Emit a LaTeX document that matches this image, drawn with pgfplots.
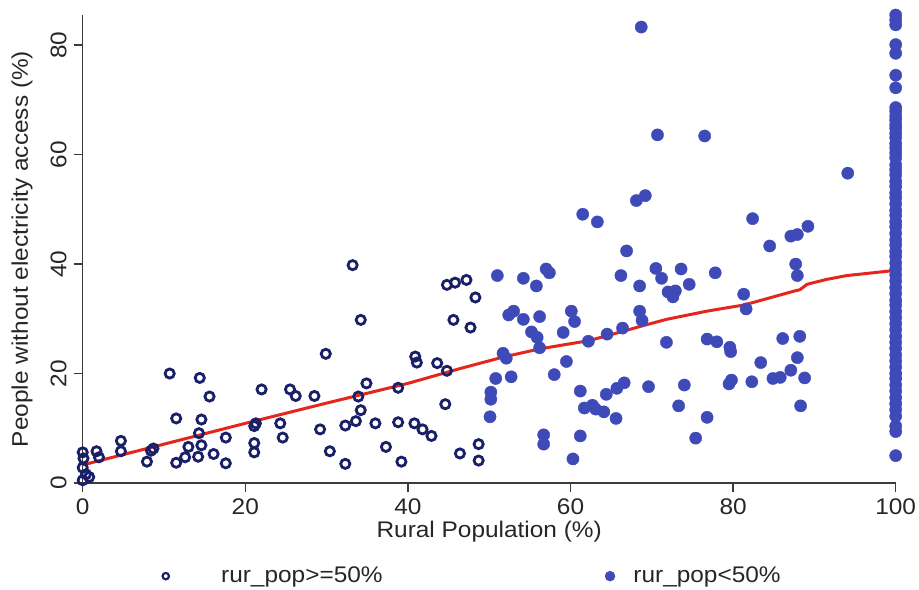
\documentclass[border=0pt]{standalone}
\usepackage{fontspec}
\setmainfont{Liberation Sans}[FakeStretch=1.08]
\usepackage{pgfplots}
\pgfplotsset{compat=1.18}

\definecolor{navyring}{RGB}{26,32,104}
\definecolor{dotblue}{RGB}{62,74,184}
\definecolor{fitred}{RGB}{228,38,28}
\definecolor{axisgray}{RGB}{60,60,60}

\pgfplotsset{
    ringlegend/.style={legend image code/.code={\path (-3pt,0pt) (27.5pt,0pt);
        \draw[##1, mark size=1.6pt, mark options={line width=1.1pt}] plot coordinates {(0pt,0pt)};}},
    dotlegend/.style={legend image code/.code={\path (-113.5pt,0pt) (11.5pt,0pt);
        \draw[##1, mark size=2.5pt] plot coordinates {(0pt,0pt)};}},
}

\begin{document}
\begin{tikzpicture}
\useasboundingbox (0,0) rectangle (459.5pt,-294.5pt);
\begin{axis}[
    at={(41.35pt,-241.5pt)}, anchor=south west,
    scale only axis, width=406.5pt, height=234pt,
    xmin=0, xmax=100, ymin=0, ymax=85.5,
    clip=false,
    axis lines=left,
    axis line style={-, draw=axisgray, line width=0.75pt},
    tick align=outside, major tick length=4.5pt,
    tick style={axisgray, line width=0.75pt},
    xtick={0,20,...,100}, ytick={0,20,...,80},
    /pgf/number format/assume math mode=true,
    tick label style={font=\fontsize{11.3}{13}\selectfont, text=black!85},
    yticklabel style={rotate=90, anchor=south},
    label style={font=\fontsize{11.3}{13}\selectfont, text=black!85},
    xlabel={Rural Population (\%)},
    ylabel={People without electricity access (\%)},
    xlabel style={at={(axis description cs:0.5,-0.0812)}, anchor=north, inner sep=0pt},
    ylabel style={at={(axis description cs:-0.0611,0.5)}, anchor=south, inner sep=0pt},
    legend columns=2,
    legend style={draw=none, fill=none, at={(axis description cs:0.0938,-0.199)},
        anchor=west, font=\fontsize{11.3}{13}\selectfont, text=black!85,
        column sep=0pt, inner sep=0pt, nodes={inner sep=0pt}},
]
% rural population below 50%
\addplot[navyring, only marks, mark=o, mark size=2.3pt,
    mark options={draw=navyring, line width=1.4pt}, ringlegend]
coordinates {
(0,5.6) (0.1,4.5) (0,2.8) (0,0.5) (0.8,1.1) (0.4,1.6) (1.7,5.8) (2.0,4.7)
(4.7,7.7) (4.7,5.8) (7.9,3.9) (8.4,5.9) (8.7,6.3) (10.7,20.0) (11.5,11.8)
(11.5,3.7) (12.6,4.7) (13.0,6.6) (14.4,19.2) (14.6,11.6) (14.3,9.1) (14.6,6.9)
(14.2,4.8) (15.6,15.8) (16.1,5.3) (17.6,8.3) (17.6,3.6) (21.1,10.4) (21.3,10.9)
(21.1,7.3) (21.1,5.6) (22.0,17.1) (24.3,10.9) (24.6,8.3) (25.5,17.1) (26.2,15.9)
(28.5,15.9) (29.2,9.8) (29.9,23.6) (30.4,5.8) (32.3,10.5) (32.3,3.5) (33.2,39.8)
(33.6,11.3) (33.9,15.8) (34.2,13.3) (34.2,29.8) (34.9,18.2) (36.0,10.9) (37.3,6.6)
(38.8,17.4) (38.8,11.1) (39.2,3.9) (40.9,23.1) (41.1,22.0) (40.8,10.9) (41.8,9.8)
(42.9,8.6) (43.6,21.9) (44.8,20.5) (44.6,14.4) (44.8,36.2) (45.8,36.6) (45.6,29.8)
(46.4,5.4) (47.2,37.1) (48.3,33.9) (47.7,28.4) (48.7,7.1) (48.7,4.1)
};
\addlegendentry{rur\_pop>=50\%}

% rural population 50% and above
\addplot[dotblue, only marks, mark=*, mark size=3.05pt,
    mark options={draw=dotblue, fill=dotblue, line width=0.2pt}, dotlegend]
coordinates {
(51.0,37.9) (54.2,37.4) (55.8,36.0) (57.0,39.1) (57.4,38.4) (52.4,30.7) (53.0,31.4)
(54.2,29.9) (56.2,30.4) (55.2,27.6) (55.9,26.6) (56.2,24.7) (51.7,23.7) (52.1,22.8)
(50.8,19.1) (52.7,19.4) (50.2,16.6) (50.2,15.3) (50.1,12.1) (59.1,27.5) (60.1,31.4)
(60.5,29.5) (59.5,22.2) (58.0,19.8) (62.2,25.9) (64.5,27.2) (66.4,28.3) (68.5,31.4)
(68.8,29.7) (66.2,37.9) (68.5,36.0) (70.5,39.2) (71.2,37.4) (73.6,39.1) (74.6,36.3)
(72.0,34.9) (72.9,35.1) (72.6,34.0) (77.8,38.4) (71.8,25.7) (76.8,26.3) (78.0,25.8)
(79.6,24.8) (79.7,24.0) (81.3,34.5) (81.6,31.8) (87.7,40.0) (87.9,37.9) (86.1,26.4)
(88.2,26.8) (87.9,22.9) (83.4,22.0) (87.1,20.6) (85.8,19.3) (84.9,19.1) (88.8,19.2)
(82.3,18.5) (79.5,18.1) (79.8,18.8) (88.3,14.1) (74.0,17.9) (69.6,17.6) (73.3,14.1)
(76.8,12.0) (75.4,8.2) (66.6,18.3) (65.7,17.3) (64.4,16.2) (64.1,13.0) (65.6,11.8)
(62.7,14.2) (61.7,13.7) (63.1,13.5) (61.2,16.8) (61.2,8.6) (60.3,4.4) (56.7,8.8)
(56.7,7.1) (68.7,83.3) (70.7,63.6) (76.5,63.4) (94.1,56.6) (68.1,51.6) (69.2,52.5)
(61.5,49.1) (63.3,47.7) (82.4,48.3) (89.2,46.9) (87.1,45.1) (87.9,45.4) (84.5,43.3)
(66.9,42.4)
(100,85.5) (100,84.6) (100,83.7) (100,80.1) (100,78.5) (100,74.5) (100,72.2)
(100,68.6) (100,67.9) (100,67.0) (100,66.3) (100,65.4) (100,64.8) (100,63.9)
(100,63.1) (100,62.0) (100,61.2) (100,60.3) (100,59.4) (100,58.1) (100,57.2)
(100,56.3) (100,55.1) (100,54.2) (100,53.0) (100,52.1) (100,51.0) (100,49.8)
(100,48.9) (100,47.7) (100,46.8) (100,45.6) (100,44.4) (100,43.5) (100,42.3)
(100,41.4) (100,40.2) (100,39.1) (100,38.0) (100,36.9) (100,35.7) (100,34.6)
(100,33.4) (100,32.5) (100,31.3) (100,30.2) (100,29.1) (100,28.0) (100,26.8)
(100,25.7) (100,24.6) (100,23.4) (100,22.3) (100,21.2) (100,20.0) (100,19.1)
(100,17.9) (100,16.8) (100,15.6) (100,14.5) (100,13.4) (100,12.2) (100,10.4)
(100,9.4) (100,5.0)
};
\addlegendentry{rur\_pop<50\%}

% smoothed fit
\addplot[fitred, line width=1.5pt, forget plot] coordinates {
(0,3.3) (10,7.1) (20,10.9) (30,14.6) (40,18.2) (46.4,20.9) (51.7,23.0)
(56.2,24.5) (62.2,26.0) (64.5,26.9) (68.8,28.7) (71.8,29.9) (76.8,31.4)
(80.0,32.2) (81.3,32.5) (87.6,35.1) (88.2,35.3) (89.1,36.3) (91.5,37.2)
(94.0,37.9) (99.7,38.8) (100,38.9) (100,40.1)
};
\end{axis}
\end{tikzpicture}
\end{document}
